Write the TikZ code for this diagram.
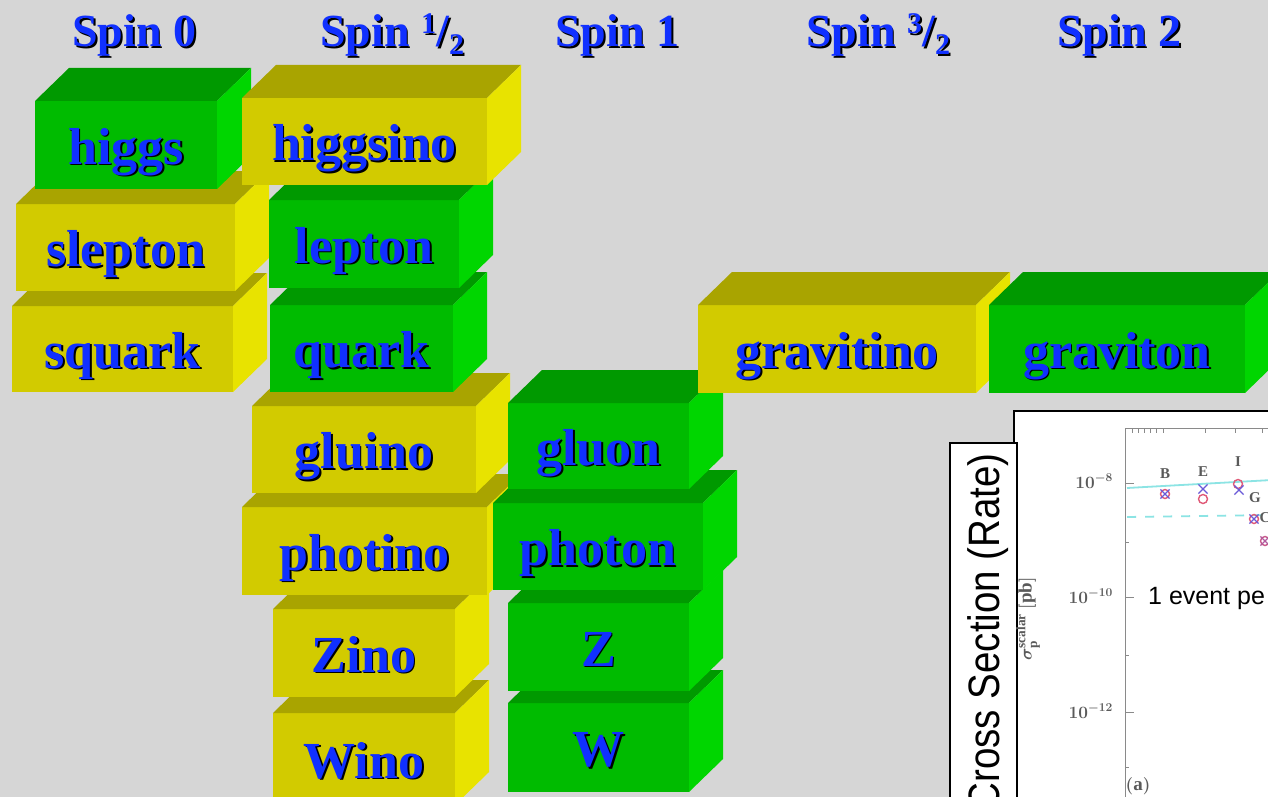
\documentclass[tikz,border=0pt]{standalone}
\usepackage{fontspec}
\setmainfont{Liberation Serif}
\newfontfamily\arialf{Liberation Sans}
\usetikzlibrary{shapes.misc}
\definecolor{bg}{HTML}{D6D6D6}
\definecolor{gfront}{HTML}{00BB00}
\definecolor{gtop}{HTML}{009900}
\definecolor{gside}{HTML}{00D600}
\definecolor{yfront}{HTML}{D2CB00}
\definecolor{ytop}{HTML}{A9A400}
\definecolor{yside}{HTML}{E8E300}
\definecolor{txtblue}{HTML}{1030FF}
\definecolor{axisc}{HTML}{8A8A8A}
\definecolor{tickc}{HTML}{5A5A5A}
\definecolor{lcyan}{HTML}{8CE4E4}
\definecolor{mred}{HTML}{E05A78}
\definecolor{mblue}{HTML}{6A5AD8}
\newcommand\stxt[1]{\leavevmode\rlap{\kern1.8pt\raisebox{-1.8pt}[0pt][0pt]{\color{black}#1}}{\color{txtblue}#1}}
\newcommand\boxfont{\fontsize{52}{56}\selectfont\bfseries}
\newcommand\hdrfont{\fontsize{46}{50}\selectfont\bfseries}
\newcommand\smd[1]{{\fontsize{30}{30}\selectfont #1}}
\newcommand\mycube[7]{%
  \node[front=#6, minimum width={#4-#2}, minimum height={#5-#3}] (#1) at ({(#2+#4)/2},{(#3+#5)/2}) {\stxt{#7}};
  \fill[#6top] (#1.north west) -- ++(34,-33) -- ++({#4-#2},0) -- (#1.north east) -- cycle;
  \fill[#6side] (#1.north east) -- ++(34,-33) -- ++(0,{#5-#3}) -- (#1.south east) -- cycle;
}
\tikzset{
  front/.style={fill=#1front, inner sep=0pt, outer sep=0pt, text height=40pt, text depth=2pt, font=\boxfont},
  hdr/.style={anchor=base west, inner sep=0pt, font=\hdrfont},
  panel/.style={draw=black, fill=white, line width=2pt, inner sep=0pt, outer sep=0pt},
  tl/.style={inner sep=0pt, text=tickc, font=\boldmath\fontsize{18}{19}\selectfont},
  dl/.style={inner sep=0pt, text=tickc, font=\boldmath\fontsize{15}{16}\selectfont},
  circ/.style={circle, draw=mred, line width=1.4pt, minimum size=9pt, inner sep=0pt},
  crs/.style={cross out, draw=mblue, line width=1.2pt, minimum size=8pt, inner sep=0pt},
}
\begin{document}
\begin{tikzpicture}[x=1pt,y=-1pt]
\useasboundingbox (0,0) rectangle (1268,797);
\fill[bg] (0,0) rectangle (1268,797);
\clip (0,0) rectangle (1268,797);

% headers
\node[hdr] (h0) at (72,47) {\stxt{Spin 0}};
\node[hdr] (h1) at (320,47) {\stxt{Spin\ \raisebox{13pt}{\smd{1}}/\raisebox{-8pt}{\smd{2}}}};
\node[hdr] (h2) at (555,47) {\stxt{Spin 1}};
\node[hdr] (h3) at (806,47) {\stxt{Spin\ \raisebox{13pt}{\smd{3}}/\raisebox{-8pt}{\smd{2}}}};
\node[hdr] (h4) at (1057,47) {\stxt{Spin 2}};

% cubes, bottom row first
\mycube{wino}{273}{713}{455}{805}{y}{Wino}
\mycube{w}{508}{703}{689}{792}{g}{W}
\mycube{zino}{273}{609}{455}{697}{y}{Zino}
\mycube{z}{508}{603}{689}{691}{g}{Z}
\mycube{photino}{242}{507}{487}{595}{y}{photino}
\mycube{photon}{493}{503}{703}{590}{g}{photon}
\mycube{gluino}{252}{406}{476}{493}{y}{gluino}
\mycube{gluon}{508}{403}{689}{489}{g}{gluon}
\mycube{squark}{12}{306}{233}{392}{y}{squark}
\mycube{quark}{270}{305}{453}{392}{g}{quark}
\mycube{gravitino}{698}{305}{976}{393}{y}{gravitino}
\mycube{graviton}{989}{305}{1245}{393}{g}{graviton}
\mycube{slepton}{16}{204}{235}{291}{y}{slepton}
\mycube{lepton}{269}{200}{459}{288}{g}{lepton}
\mycube{higgs}{35}{101}{217}{189}{g}{higgs}
\mycube{higgsino}{242}{98}{487}{185}{y}{higgsino}

% plot panel
\node[panel, anchor=north west, minimum width=290, minimum height=420] (plotbg) at (1014,411) {};
\node[panel, anchor=north west, minimum width=67, minimum height=400] (labelbox) at (950,443) {};
\node[rotate=90, anchor=base east, inner sep=0pt, font=\arialf\fontsize{44}{46}\selectfont] (ylabel) at (999,453) {\scalebox{0.875}[1]{Cross Section (Rate)}};

% axes
\draw[axisc, line width=1pt] (1125,800) -- (1125,428) -- (1275,428);
\foreach \yy in {483,597,712} \draw[axisc, line width=1pt] (1125,\yy) -- ++(9,0);
\foreach \yy in {542,655,767} \draw[axisc, line width=1pt] (1125,\yy) -- ++(4,0);
\foreach \xx in {1132,1138,1144,1150,1156,1163,1205,1235,1262} \draw[axisc, line width=0.8pt] (\xx,428) -- ++(0,5);
\node[tl, anchor=east] (t8) at (1113,481) {$10^{-8}$};
\node[tl, anchor=east] (t10) at (1113,596) {$10^{-10}$};
\node[tl, anchor=east] (t12) at (1113,711) {$10^{-12}$};
\node[tl, rotate=90, font=\boldmath\fontsize{19}{20}\selectfont] (ax) at (1028,619) {$\sigma_{\mathrm p}^{\mathrm{scalar}}\ [\mathrm{pb}]$};
\node[tl, font=\boldmath\fontsize{19}{20}\selectfont] (lbla) at (1138,786) {$(\mathrm{a})$};

% lines
\coordinate (s1) at (1127,488);
\coordinate (s2) at (1272,480);
\coordinate (d1) at (1127,517);
\coordinate (d2) at (1272,515);
\draw[lcyan, line width=1.8pt] (s1) -- (s2);
\draw[lcyan, line width=1.8pt, dash pattern=on 9pt off 9pt] (d1) -- (d2);

% data points
\node[dl] (lB) at (1165,474) {$\mathrm{B}$};
\node[circ] (cB) at (1165,494) {};
\node[crs] (xB) at (1165,494) {};
\node[dl] (lE) at (1203,472) {$\mathrm{E}$};
\node[crs] (xE) at (1203,489) {};
\node[circ] (cE) at (1203,499) {};
\node[dl] (lI) at (1238,462) {$\mathrm{I}$};
\node[circ] (cI) at (1238,484) {};
\node[crs] (xI) at (1239,490) {};
\node[dl] (lG) at (1255,498) {$\mathrm{G}$};
\node[circ] (cC) at (1254,519) {};
\node[crs] (xC) at (1254,519) {};
\node[dl] (lC) at (1265,518) {$\mathrm{C}$};
\node[circ, draw=mred!80!mblue] (cK) at (1265,541) {};
\node[crs, draw=mred!60!mblue] (xK) at (1265,541) {};

\node[anchor=base west, inner sep=0pt, font=\arialf\fontsize{25}{27}\selectfont] (ev) at (1148,604) {1 event pe};
\end{tikzpicture}
\end{document}
